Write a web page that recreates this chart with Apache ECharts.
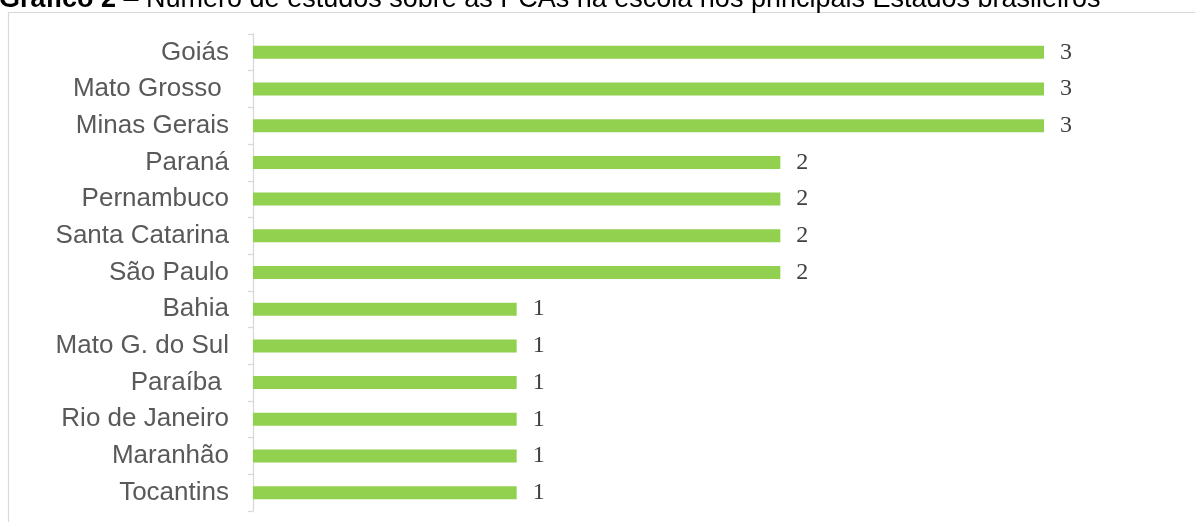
<!DOCTYPE html>
<html><head><meta charset="utf-8">
<script src="https://cdn.jsdelivr.net/npm/echarts@6/dist/echarts.min.js"></script>
<style>html,body{margin:0;padding:0;background:#fff}#c{width:1195px;height:522px}</style>
</head><body><div id="c"></div>
<script>
const states = ['Goiás','Mato Grosso ','Minas Gerais','Paraná','Pernambuco','Santa Catarina','São Paulo','Bahia','Mato G. do Sul','Paraíba ','Rio de Janeiro','Maranhão','Tocantins'];
const studies = [3,3,3,2,2,2,2,1,1,1,1,1,1];
const titleBold = 'Gráfico 2';
const titleRest = ' – Número de estudos sobre as PCAs na escola nos principais Estados brasileiros';

const chart = echarts.init(document.getElementById('c'));
chart.setOption({
  animation: false,
  title: {
    text: '{b|' + titleBold + '}{n|' + titleRest + '}',
    left: -1, top: -13.5, padding: 0,
    textStyle: { fontWeight: 'normal', rich: {
      b: { fontFamily: 'Liberation Sans, Arial', fontSize: 27, fontWeight: 'bold', color: '#000' },
      n: { fontFamily: 'Liberation Sans, Arial', fontSize: 27, fontWeight: 'normal', color: '#000' }
    } }
  },
  graphic: [{
    type: 'rect', shape: { x: 8.5, y: 12.5, width: 1200, height: 520 },
    style: { fill: 'none', stroke: '#d9d9d9', lineWidth: 1.2 }, silent: true, z: -1
  }],
  grid: { left: 253, right: 151, top: 34, height: 477, containLabel: false },
  xAxis: { type: 'value', min: 0, max: 3, show: false },
  yAxis: {
    type: 'category', data: states, inverse: true, offset: 3,
    axisLine: { show: true, lineStyle: { color: '#d9d9d9', width: 1.3 } },
    axisTick: { show: true, length: 5, lineStyle: { color: '#d9d9d9', width: 1.3 } },
    axisLabel: { fontFamily: 'Liberation Sans, Arial', fontSize: 26, color: '#595959', margin: 21 },
    splitLine: { show: false }
  },
  series: [{
    type: 'bar', data: studies, barWidth: 13,
    itemStyle: { color: '#92d050' },
    label: { show: true, position: 'right', distance: 16, fontFamily: 'Liberation Serif, DejaVu Serif, serif', fontSize: 24, color: '#404040' }
  }]
});
</script></body></html>
